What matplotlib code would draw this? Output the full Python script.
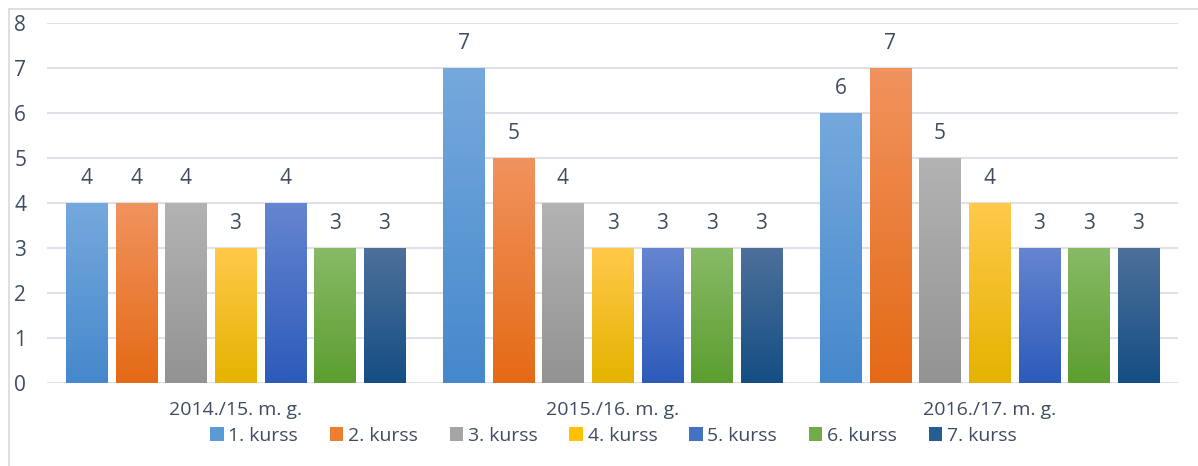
import matplotlib.pyplot as plt
import numpy as np
from matplotlib.colors import LinearSegmentedColormap
from matplotlib.patches import Patch, Rectangle

# Dati
years = ['2014./15. m. g.', '2015./16. m. g.', '2016./17. m. g.']
series = ['1. kurss', '2. kurss', '3. kurss', '4. kurss', '5. kurss', '6. kurss', '7. kurss']
values = [
    [4, 7, 6],
    [4, 5, 7],
    [4, 4, 5],
    [3, 3, 4],
    [4, 3, 3],
    [3, 3, 3],
    [3, 3, 3],
]
# krāsas: (augša, apakša)
grad = [
    ('#75A9DD', '#4688CC'),
    ('#F1935E', '#E46A16'),
    ('#B3B3B3', '#939393'),
    ('#FFC94A', '#E5B300'),
    ('#6585D0', '#2D5BBA'),
    ('#88BA66', '#5C9E30'),
    ('#4D709B', '#154E84'),
]
mid = ['#5B9BD5', '#ED7D31', '#A5A5A5', '#FFC000', '#4472C4', '#70AD47', '#255E91']

text_col = '#3E4C60'
font = ['Open Sans', 'DejaVu Sans']

fig = plt.figure(figsize=(11.98, 4.66), dpi=100)
ax = fig.add_axes([47 / 1198, 1 - 383 / 466, 1131 / 1198, 360 / 466])

# rāmis ap diagrammu
fig.patches.append(Rectangle((8.5 / 1198, -0.1), 1.2, 1 - 8.5 / 466 + 0.1,
                             transform=fig.transFigure, fill=False,
                             edgecolor='#D9D9D9', linewidth=1.2))

x = np.arange(len(years))
step = 0.1316
width = 0.109

for i, s in enumerate(series):
    pos = x + (i - 3) * step
    bars = ax.bar(pos, values[i], width, color=mid[i], zorder=2, linewidth=0)
    cmap = LinearSegmentedColormap.from_list('g%d' % i, [grad[i][1], grad[i][0]])
    for b, v in zip(bars, values[i]):
        x0 = b.get_x()
        im = ax.imshow(np.linspace(0, 1, 100).reshape(-1, 1), cmap=cmap,
                       extent=[x0, x0 + b.get_width(), 0, v], origin='lower',
                       aspect='auto', zorder=3)
        im.set_clip_path(b)
        ax.annotate(str(v), (b.get_x() + b.get_width() / 2, v), xytext=(0, 10),
                    textcoords='offset points', ha='center', va='bottom',
                    fontsize=15, color=text_col, family=font)

ax.set_xlim(-0.5, 2.5)
ax.set_ylim(0, 8)
ax.set_yticks(range(0, 9))
ax.yaxis.grid(True, color='#DEE2E8', linewidth=1.5, zorder=0)
ax.set_axisbelow(True)
for sp in ax.spines.values():
    sp.set_visible(False)
ax.tick_params(axis='y', length=0, pad=15, labelsize=15, labelcolor=text_col)
ax.tick_params(axis='x', length=0, pad=13, labelsize=14, labelcolor=text_col)
ax.set_xticks(x)
ax.set_xticklabels(years)
for lab in ax.get_xticklabels() + ax.get_yticklabels():
    lab.set_family(font)
for lab in ax.get_yticklabels():
    lab.set_horizontalalignment('right')

handles = [Patch(facecolor=mid[i], edgecolor='none', label=series[i]) for i in range(len(series))]
leg = fig.legend(handles=handles, loc='center', bbox_to_anchor=(0.512, 1 - 436 / 466),
                 ncol=7, frameon=False, handlelength=0.7, handleheight=0.7,
                 handletextpad=0.25, columnspacing=1.62,
                 prop={'family': font, 'size': 14})
for t in leg.get_texts():
    t.set_color(text_col)

fig.savefig('out.png', dpi=100)
